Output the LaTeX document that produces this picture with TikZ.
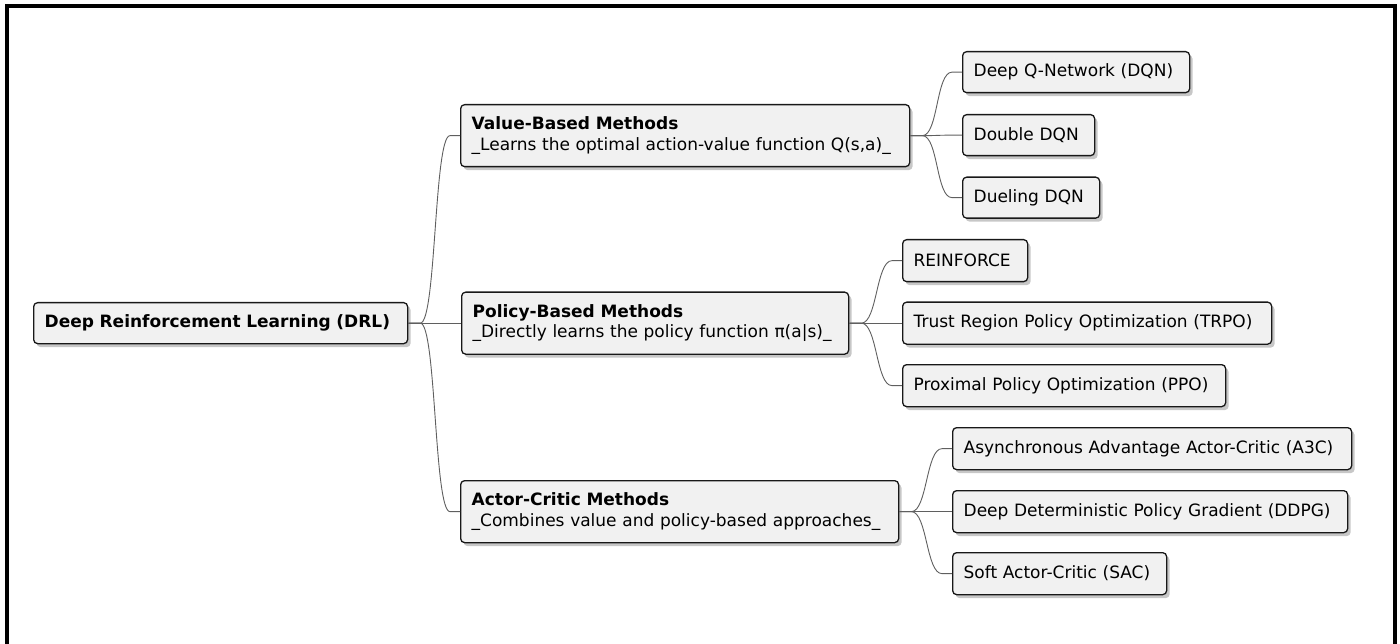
\documentclass[tikz,border=0pt]{standalone}
\usepackage{fontspec}
\setmainfont{DejaVu Sans}
\usetikzlibrary{shadows}
\definecolor{boxfill}{RGB}{241,241,241}
\definecolor{boxline}{RGB}{24,24,24}
\definecolor{connline}{RGB}{95,95,95}
\tikzset{
  mmbox/.style={draw=boxline, fill=boxfill, line width=1.3pt, rounded corners=4pt,
    anchor=north west, inner xsep=11pt, inner ysep=0pt, align=left,
    font=\fontsize{17}{20.7}\selectfont, text=black,
    drop shadow={shadow xshift=3pt, shadow yshift=-3.5pt, fill=black, opacity=0.22}},
  conn/.style={draw=connline, line width=0.9pt},
}
\newcommand{\link}[2]{\draw[conn] (#1.east) -- ++(12,0) .. controls +(16,0) and +(-16,0) .. ([xshift=-10pt]#2.west) -- (#2.west);}
\begin{document}
\begin{tikzpicture}[x=1pt, y=-1pt]
\useasboundingbox (0,0) rectangle (1400,644);
\draw[line width=4pt, black] (6.5,6.5) rectangle (1394.7,648);
% level 0
\node[mmbox, minimum height=41pt, text width=352pt] (root) at (33,302) {\textbf{Deep Reinforcement Learning (DRL)}};
% level 1
\node[mmbox, minimum height=62pt, text width=427pt] (value) at (460,104) {\textbf{Value-Based Methods}\\\_Learns the optimal action-value function Q(s,a)\_};
\node[mmbox, minimum height=62pt, text width=365pt] (policy) at (461,291.5) {\textbf{Policy-Based Methods}\\\_Directly learns the policy function π(a|s)\_};
\node[mmbox, minimum height=62pt, text width=416pt] (actor) at (460,480) {\textbf{Actor-Critic Methods}\\\_Combines value and policy-based approaches\_};
% level 2
\node[mmbox, minimum height=41pt, text width=205pt] (dqn) at (962,51) {Deep Q-Network (DQN)};
\node[mmbox, minimum height=41pt, text width=110pt] (ddqn) at (962,114) {Double DQN};
\node[mmbox, minimum height=41pt, text width=115pt] (dueling) at (962,176.5) {Dueling DQN};
\node[mmbox, minimum height=42pt, text width=103pt] (reinforce) at (902,239) {REINFORCE};
\node[mmbox, minimum height=42pt, text width=347pt] (trpo) at (902,301.5) {Trust Region Policy Optimization (TRPO)};
\node[mmbox, minimum height=42pt, text width=301pt] (ppo) at (902,364) {Proximal Policy Optimization (PPO)};
\node[mmbox, minimum height=42pt, text width=377pt] (a3c) at (952,427) {Asynchronous Advantage Actor-Critic (A3C)};
\node[mmbox, minimum height=42pt, text width=373pt] (ddpg) at (952,490) {Deep Deterministic Policy Gradient (DDPG)};
\node[mmbox, minimum height=42pt, text width=192pt] (sac) at (952,552) {Soft Actor-Critic (SAC)};
% connectors
\link{root}{value}
\link{root}{policy}
\link{root}{actor}
\link{value}{dqn}
\link{value}{ddqn}
\link{value}{dueling}
\link{policy}{reinforce}
\link{policy}{trpo}
\link{policy}{ppo}
\link{actor}{a3c}
\link{actor}{ddpg}
\link{actor}{sac}
\end{tikzpicture}
\end{document}
